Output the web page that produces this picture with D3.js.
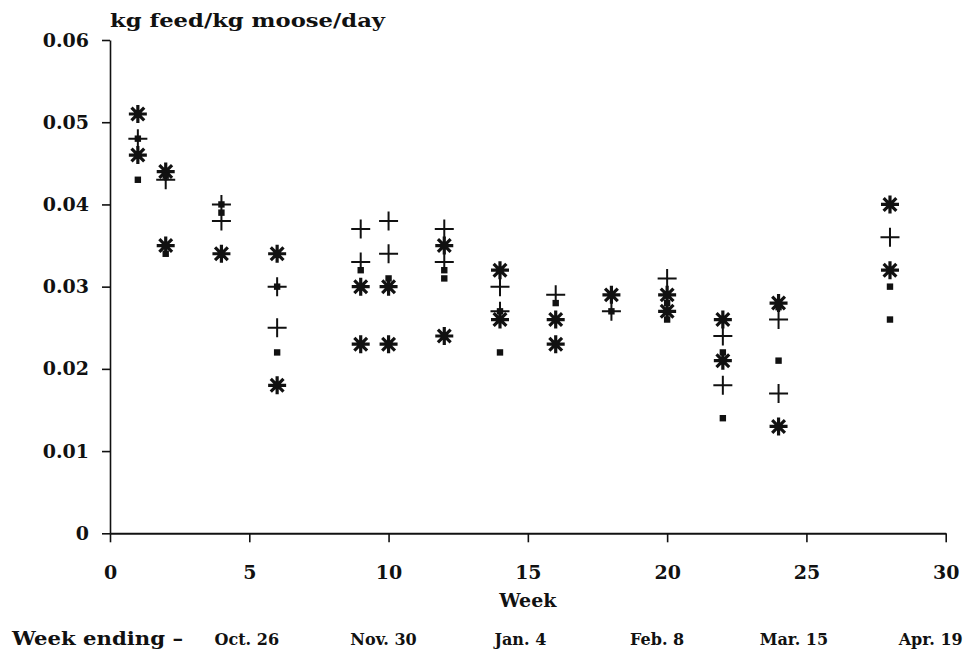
<!DOCTYPE html>
<html>
<head>
<meta charset="utf-8">
<script src="https://cdn.jsdelivr.net/npm/d3@7"></script>
<style>
  html, body { margin: 0; padding: 0; background: #fff; }
  svg text { font-family: "DejaVu Serif", "Liberation Serif", serif; font-weight: bold; fill: #111; }
</style>
</head>
<body>
<svg id="chart" width="969" height="650"></svg>
<script>
// ---- data ----
const weeks = [1, 2, 4, 6, 9, 10, 12, 14, 16, 18, 20, 22, 24, 28];
const asteriskA = [0.051, 0.044, 0.034, 0.034, 0.030, 0.030, 0.035, 0.032, 0.026, 0.029, 0.029, 0.026, 0.028, 0.040];
const asteriskB = [0.046, 0.035, null, 0.018, 0.023, 0.023, 0.024, 0.026, 0.023, null, 0.027, 0.021, 0.013, 0.032];
const plusA     = [0.048, 0.043, 0.040, 0.030, 0.037, 0.038, 0.037, 0.030, 0.029, 0.027, 0.031, 0.024, 0.026, 0.036];
const plusB     = [null, null, 0.038, 0.025, 0.033, 0.034, 0.033, 0.027, null, null, null, 0.018, 0.017, null];
const squareA   = [0.048, 0.0435, 0.040, 0.030, 0.032, 0.031, 0.032, 0.027, 0.028, 0.027, 0.028, 0.022, 0.0275, 0.030];
const squareB   = [0.043, 0.034, 0.039, 0.022, null, null, 0.031, 0.022, null, null, 0.026, 0.014, 0.021, 0.026];
const xTicks = [0, 5, 10, 15, 20, 25, 30];
const yTicks = [0, 0.01, 0.02, 0.03, 0.04, 0.05, 0.06];
const dateWeeks = [5, 10, 15, 20, 25, 30];
const dateLabels = ["Oct. 26", "Nov. 30", "Jan. 4", "Feb. 8", "Mar. 15", "Apr. 19"];
const yTitle = "kg feed/kg moose/day";
const xTitle = "Week";
const dateTitle = "Week ending \u2013";

const series = [
  { values: asteriskA, shape: "asterisk" },
  { values: asteriskB, shape: "asterisk" },
  { values: plusA, shape: "plus" },
  { values: plusB, shape: "plus" },
  { values: squareA, shape: "square" },
  { values: squareB, shape: "square" }
];

// ---- layout ----
const svg = d3.select("#chart");
const ink = "#111";
const x = d3.scaleLinear().domain([0, 30]).range([110, 945.7]);
const y = d3.scaleLinear().domain([0, 0.06]).range([533.3, 40]);

// y axis
const yAxis = d3.axisLeft(y).tickValues(yTicks).tickSize(8).tickSizeOuter(0).tickPadding(13)
  .tickFormat(d => d === 0 ? "0" : d3.format(".2f")(d));
const gy = svg.append("g").attr("transform", `translate(${x(0)},0)`).call(yAxis);
gy.select(".domain").attr("stroke", ink).attr("stroke-width", 1.6);
gy.selectAll(".tick line").attr("stroke", ink).attr("stroke-width", 1.6);
gy.selectAll(".tick text").attr("font-size", 19).attr("fill", ink)
  .style("font-family", "'DejaVu Serif', serif").style("font-weight", "bold");

// x axis
const xAxis = d3.axisBottom(x).tickValues(xTicks).tickSize(9).tickSizeOuter(0).tickPadding(23)
  .tickFormat(d3.format("d"));
const gx = svg.append("g").attr("transform", `translate(0,${y(0)})`).call(xAxis);
gx.select(".domain").attr("stroke", ink).attr("stroke-width", 2);
gx.selectAll(".tick line").attr("stroke", ink).attr("stroke-width", 1.6);
gx.selectAll(".tick text").attr("font-size", 19).attr("fill", ink)
  .style("font-family", "'DejaVu Serif', serif").style("font-weight", "bold");

// titles
svg.append("text").attr("x", x(0)).attr("y", 27).attr("font-size", 19)
  .attr("textLength", 275).attr("lengthAdjust", "spacingAndGlyphs").text(yTitle);
svg.append("text").attr("x", x(15)).attr("y", 607).attr("text-anchor", "middle")
  .attr("font-size", 19).text(xTitle);
svg.append("text").attr("x", 12).attr("y", 645).attr("font-size", 19)
  .attr("textLength", 171).attr("lengthAdjust", "spacingAndGlyphs").text(dateTitle);
svg.append("g").selectAll("text").data(dateWeeks).join("text")
  .attr("x", (w) => x(w) - w * 0.5)
  .attr("y", 645).attr("text-anchor", "middle").attr("font-size", 16)
  .text((w, i) => dateLabels[i]);

// marks
const marks = svg.append("g");
const pts = [];
series.forEach(s => s.values.forEach((v, i) => { if (v != null) pts.push({ wk: weeks[i], v, shape: s.shape }); }));

function asteriskPath(r) {
  const d = r * Math.SQRT1_2;
  return `M${-r},0L${r},0M0,${-r}L0,${r}M${-d},${-d}L${d},${d}M${-d},${d}L${d},${-d}`;
}
function plusPath(r) { return `M${-r},0L${r},0M0,${-r}L0,${r}`; }

marks.selectAll("path.ast").data(pts.filter(p => p.shape === "asterisk")).join("path")
  .attr("class", "ast")
  .attr("transform", p => `translate(${x(p.wk)},${y(p.v)})`)
  .attr("d", asteriskPath(9)).attr("fill", "none").attr("stroke", ink).attr("stroke-width", 3.2);
marks.selectAll("path.plus").data(pts.filter(p => p.shape === "plus")).join("path")
  .attr("class", "plus")
  .attr("transform", p => `translate(${x(p.wk)},${y(p.v)})`)
  .attr("d", plusPath(9.5)).attr("fill", "none").attr("stroke", ink).attr("stroke-width", 2);
marks.selectAll("rect.sq").data(pts.filter(p => p.shape === "square")).join("rect")
  .attr("class", "sq")
  .attr("x", p => x(p.wk) - 3.2).attr("y", p => y(p.v) - 3.2)
  .attr("width", 6.4).attr("height", 6.4).attr("fill", ink);
</script>
</body>
</html>
